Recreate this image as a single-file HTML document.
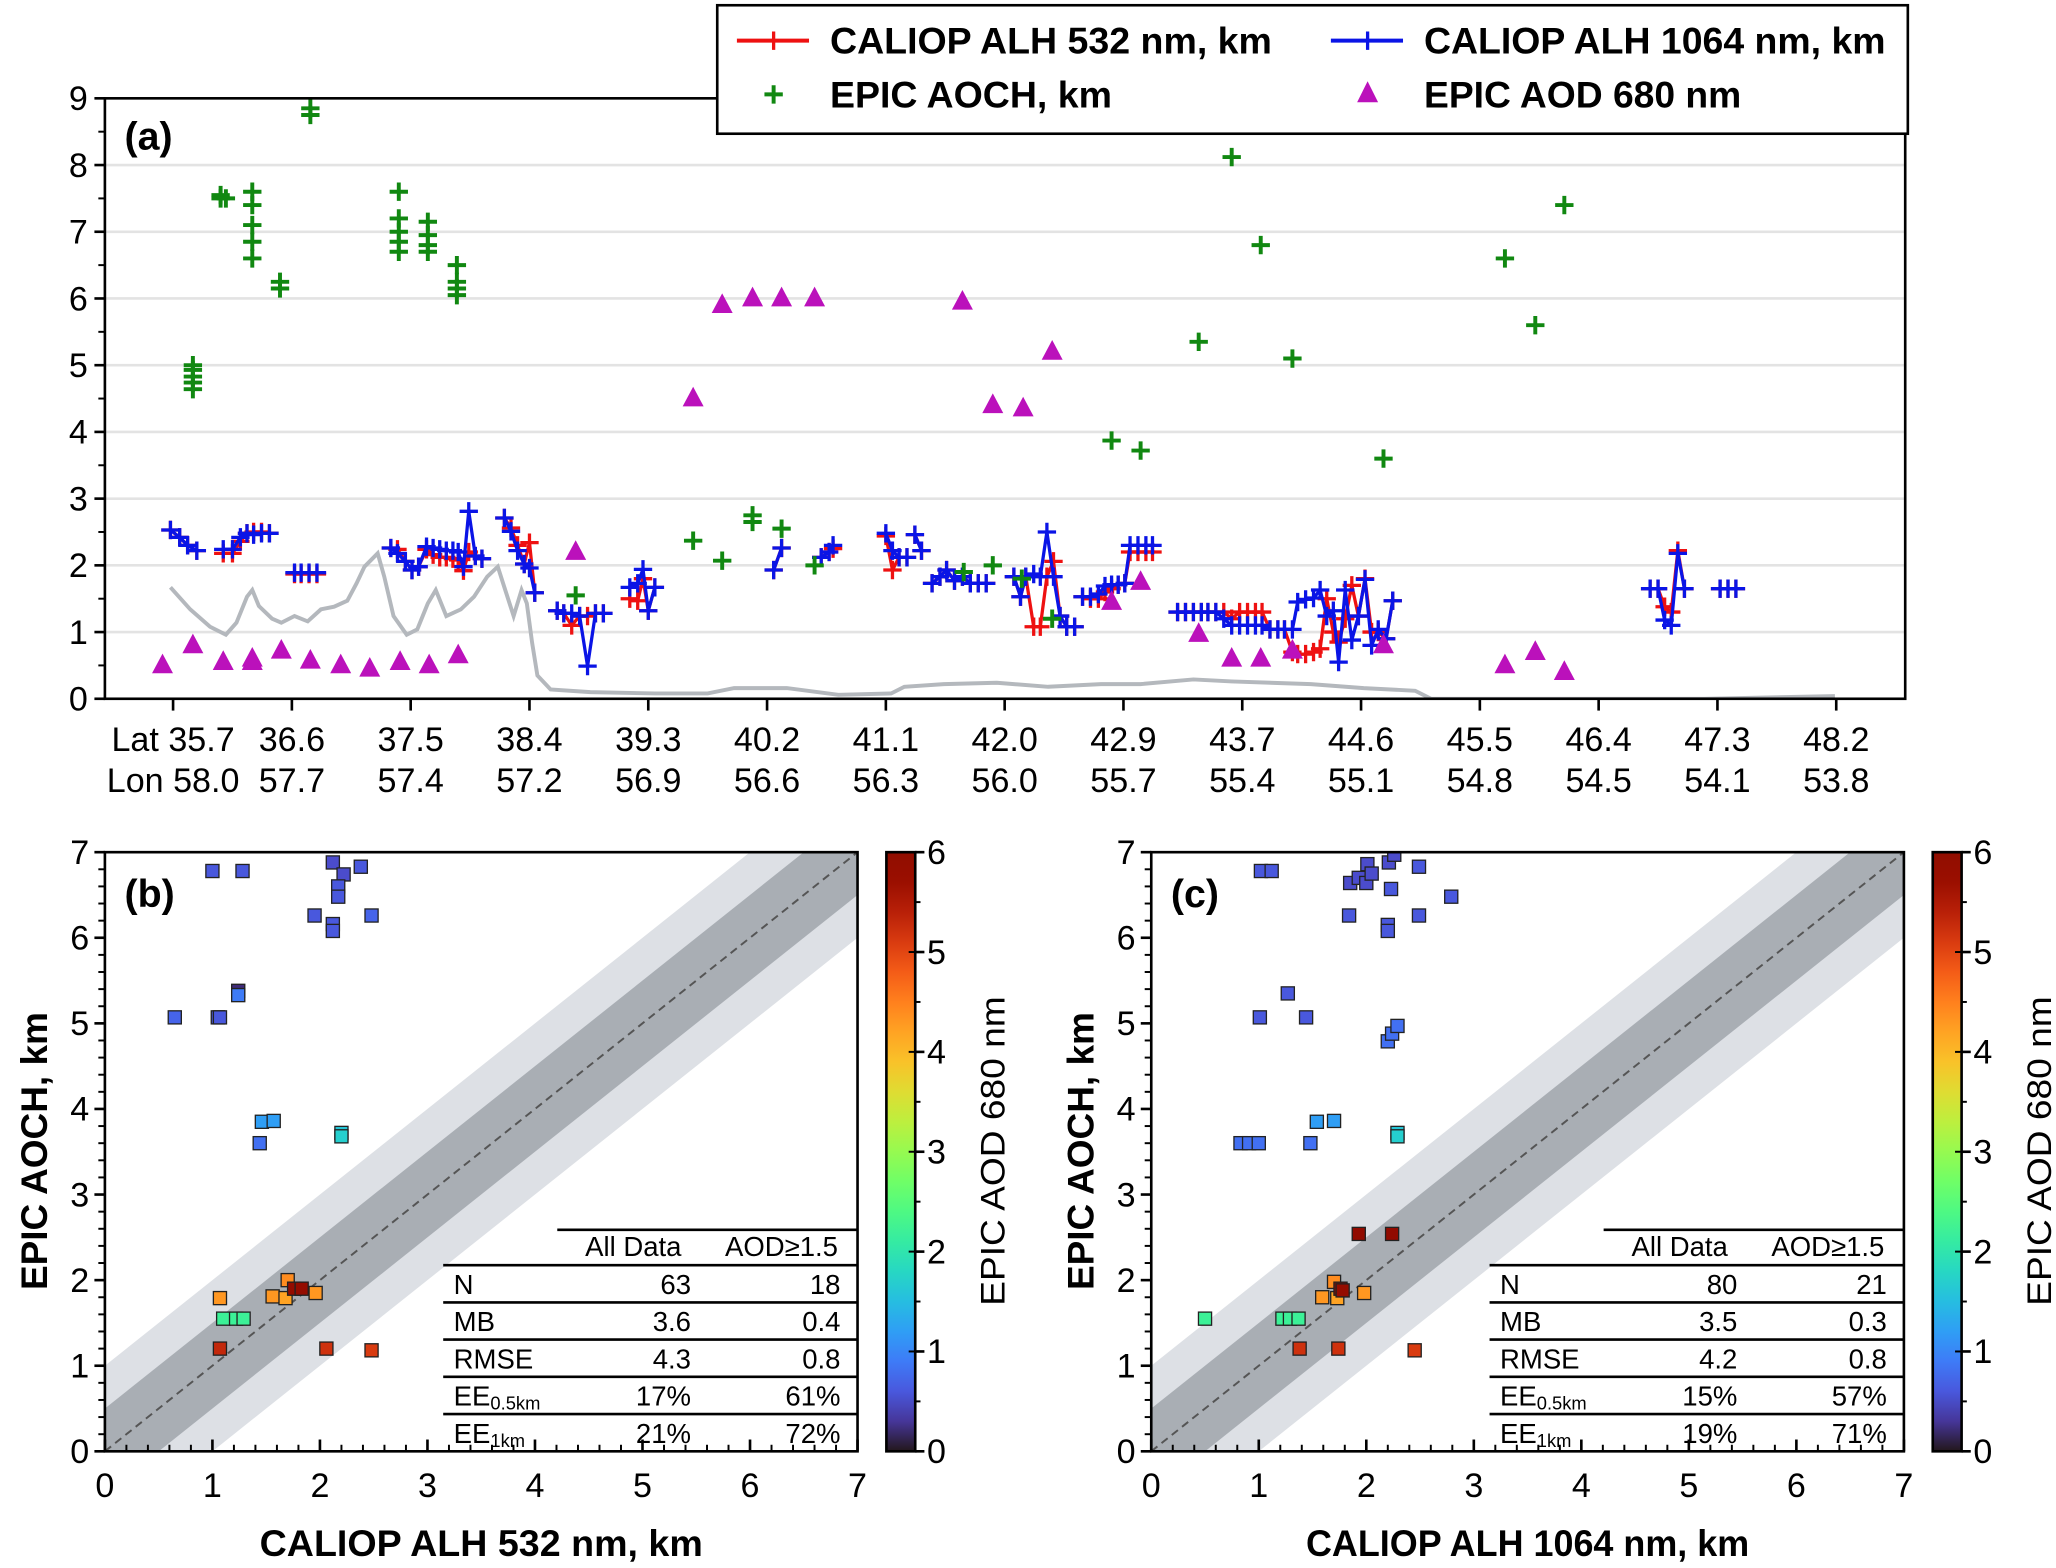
<!DOCTYPE html>
<html><head><meta charset="utf-8"><style>
html,body{margin:0;padding:0;background:#fff}
svg{display:block;font-family:"Liberation Sans",sans-serif}
</style></head><body>
<svg id="fig" width="2056" height="1568" viewBox="0 0 1568 1196" preserveAspectRatio="none" xmlns="http://www.w3.org/2000/svg"></svg>
<script>
// ---------- Panel (a) data ----------
const latTicks=["35.7","36.6","37.5","38.4","39.3","40.2","41.1","42.0","42.9","43.7","44.6","45.5","46.4","47.3","48.2"];
const lonTicks=["58.0","57.7","57.4","57.2","56.9","56.6","56.3","56.0","55.7","55.4","55.1","54.8","54.5","54.1","53.8"];
const yTicksA=[0,1,2,3,4,5,6,7,8,9];
const greyLat=[35.68,35.83,35.98,36.10,36.18,36.26,36.30,36.35,36.45,36.52,36.62,36.72,36.82,36.92,37.02,37.09,37.15,37.25,37.30,37.37,37.47,37.55,37.63,37.69,37.77,37.88,37.98,38.08,38.16,38.21,38.28,38.34,38.38,38.42,38.46,38.56,38.86,39.35,39.75,39.95,40.35,40.74,41.14,41.24,41.54,41.94,42.33,42.73,43.03,43.43,43.72,44.32,44.72,45.11,45.23,47.30,48.29];
const greyVal=[1.67,1.34,1.08,0.96,1.14,1.53,1.63,1.39,1.2,1.14,1.24,1.16,1.34,1.38,1.47,1.73,1.98,2.18,1.83,1.24,0.96,1.04,1.43,1.63,1.24,1.34,1.53,1.83,1.98,1.67,1.24,1.63,1.43,0.84,0.35,0.14,0.1,0.08,0.08,0.16,0.16,0.06,0.08,0.18,0.22,0.24,0.18,0.22,0.22,0.29,0.26,0.22,0.16,0.12,0,0,0.04];
const blueSegLat=[
[35.68,35.75,35.81,35.88],
[36.08,36.15,36.21,36.26,36.31,36.37,36.43],
[36.62,36.67,36.73,36.79],
[37.35,37.40,37.46,37.51,37.56,37.62,37.67,37.72,37.77,37.82,37.86,37.90,37.94,37.99,38.04],
[38.21,38.26,38.31,38.36,38.40,38.44],
[38.61,38.66,38.72,38.78,38.84,38.90,38.96],
[39.16,39.22,39.26,39.30,39.35],
[40.25,40.31],
[40.61,40.67,40.70],
[41.10,41.15,41.20,41.26],
[41.32,41.37],
[41.45,41.51,41.56,41.62,41.68,41.74,41.80,41.86],
[42.07,42.12,42.16,42.22,42.27,42.32,42.37,42.42,42.47,42.53],
[42.59,42.65,42.71,42.76,42.81,42.86,42.91,42.95,43.01,43.07,43.12],
[43.31,43.37,43.43,43.49,43.54,43.60,43.66,43.72,43.78,43.84,43.90,43.95,44.01,44.07,44.12,44.18,44.22,44.28,44.34,44.39,44.44,44.49,44.53,44.58,44.63,44.68,44.73,44.78,44.83,44.89,44.94],
[46.89,46.95,47.00,47.05,47.10,47.15],
[47.42,47.48,47.54]];
const blueSegVal=[
[2.53,2.42,2.3,2.22],
[2.24,2.24,2.42,2.48,2.46,2.48,2.48],
[1.89,1.89,1.89,1.89],
[2.26,2.18,2.06,1.93,1.98,2.28,2.26,2.24,2.22,2.22,2.2,1.98,2.81,2.14,2.1],
[2.71,2.51,2.22,2.02,1.96,1.59],
[1.32,1.28,1.28,1.24,0.49,1.28,1.28],
[1.67,1.73,1.94,1.32,1.67],
[1.93,2.26],
[2.12,2.2,2.3],
[2.48,2.22,2.12,2.12],
[2.46,2.22],
[1.73,1.83,1.93,1.77,1.83,1.73,1.73,1.73],
[1.83,1.53,1.83,1.87,1.83,2.5,1.83,1.24,1.08,1.08],
[1.53,1.53,1.57,1.69,1.71,1.71,1.73,2.3,2.3,2.3,2.3],
[1.3,1.3,1.3,1.3,1.3,1.3,1.2,1.1,1.1,1.1,1.1,1.1,1.04,1.04,1.04,1.04,1.45,1.49,1.51,1.63,1.24,1.32,0.55,1.63,0.88,1.24,1.79,0.8,1.04,0.9,1.47],
[1.65,1.65,1.18,1.1,2.18,1.65],
[1.65,1.65,1.65]];
const redSegVal=[
[2.53,2.42,2.3,2.22],
[2.18,2.18,2.36,2.48,2.5,2.5,2.48],
[1.87,1.87,1.87,1.87],
[2.26,2.24,2.06,1.93,1.98,2.24,2.16,2.12,2.12,2.1,2.08,1.92,2.2,2.14,2.1],
[2.71,2.56,2.3,2.02,2.34,1.59],
[1.32,1.28,1.1,1.24,1.24,1.28,1.28],
[1.5,1.47,1.8,1.32,1.67],
[1.93,2.26],
[2.12,2.2,2.25],
[2.44,1.93,2.12,2.12],
[2.46,2.22],
[1.73,1.83,1.93,1.77,1.83,1.73,1.73,1.73],
[1.83,1.53,1.83,1.08,1.08,1.83,2.06,1.24,1.08,1.08],
[1.53,1.5,1.5,1.6,1.65,1.71,1.73,2.2,2.2,2.2,2.2],
[1.3,1.3,1.3,1.3,1.3,1.3,1.3,1.2,1.3,1.3,1.3,1.3,1.04,1.04,1.04,0.7,0.67,0.67,0.7,0.75,1.5,1.0,0.85,1.2,1.7,1.24,1.8,1.0,1.0,0.9,1.47],
[1.65,1.65,1.38,1.3,2.22,1.65],
[1.65,1.65,1.65]];
const greenLat=[35.85,35.85,35.85,35.85,35.85,36.06,36.06,36.10,36.30,36.30,36.30,36.30,36.30,36.51,36.51,36.74,36.74,37.41,37.41,37.41,37.41,37.41,37.63,37.63,37.63,37.63,37.85,37.85,37.85,37.85,38.75,39.64,39.86,40.09,40.09,40.31,40.56,41.69,41.91,42.13,42.36,42.81,43.03,43.47,43.72,43.94,44.18,44.87,45.79,46.02,46.24];
const greenVal=[4.64,4.74,4.83,4.93,5.0,7.55,7.5,7.5,6.6,6.85,7.1,7.4,7.6,6.15,6.25,8.75,8.85,6.7,6.85,7.0,7.2,7.6,6.7,6.8,6.95,7.15,6.05,6.15,6.25,6.5,1.55,2.37,2.07,2.65,2.75,2.55,2.0,1.9,2.0,1.8,1.2,3.87,3.72,5.35,8.12,6.8,5.1,3.6,6.6,5.6,7.4];
const aodLat=[35.62,35.85,36.08,36.30,36.30,36.52,36.74,36.97,37.19,37.42,37.64,37.86,38.75,39.64,39.86,40.09,40.31,40.56,41.68,41.91,42.14,42.36,42.81,43.03,43.47,43.72,43.94,44.18,44.87,45.79,46.02,46.24];
const aodVal=[0.5,0.8,0.55,0.6,0.55,0.72,0.57,0.5,0.45,0.55,0.5,0.65,2.2,4.5,5.9,6.0,6.0,6.0,5.95,4.4,4.35,5.2,1.45,1.75,0.97,0.6,0.6,0.72,0.8,0.5,0.7,0.4];

// ---------- Panel (b) data ----------
const bX=[0.65,1.0,1.28,1.05,1.07,1.24,1.24,1.44,1.46,1.57,2.12,2.22,2.17,2.17,2.38,1.95,2.12,2.12,2.48,2.2,2.2,1.07,1.1,1.22,1.29,1.07,1.56,1.7,1.68,1.76,1.83,1.96,2.06,2.48];
const bY=[5.07,6.78,6.78,5.07,5.07,5.38,5.33,3.6,3.85,3.86,6.88,6.74,6.6,6.48,6.83,6.26,6.16,6.08,6.26,3.72,3.68,1.79,1.55,1.55,1.55,1.2,1.81,2.0,1.79,1.9,1.9,1.85,1.2,1.18];
const bC=[0.7,0.6,0.6,0.6,0.6,0.2,0.9,0.8,1.2,1.2,0.5,0.5,0.6,0.6,0.6,0.6,0.6,0.6,0.7,1.6,1.7,4.3,2.2,2.2,2.2,5.3,4.3,4.4,4.2,5.8,5.8,4.3,5.2,5.1];
// ---------- Panel (c) data ----------
const cX=[1.02,1.12,1.84,1.85,1.93,2.0,2.01,2.05,2.21,2.26,2.23,2.49,2.2,2.2,2.49,2.79,1.27,1.01,1.44,2.2,2.24,2.29,0.83,0.91,1.0,1.48,1.54,1.7,2.29,2.29,0.5,1.22,1.29,1.37,1.93,2.24,1.7,1.59,1.73,1.76,1.78,1.98,1.38,1.74,2.45];
const cY=[6.78,6.78,6.26,6.64,6.7,6.64,6.86,6.75,6.88,6.97,6.57,6.83,6.15,6.08,6.26,6.48,5.35,5.07,5.07,4.79,4.88,4.97,3.6,3.6,3.6,3.6,3.85,3.86,3.72,3.68,1.55,1.55,1.55,1.55,2.54,2.54,1.98,1.8,1.79,1.9,1.88,1.85,1.2,1.2,1.18];
const cC=[0.6,0.6,0.6,0.5,0.5,0.5,0.5,0.5,0.5,0.5,0.6,0.6,0.6,0.6,0.6,0.6,0.6,0.6,0.6,0.8,0.8,0.8,0.8,0.8,0.8,0.8,1.2,1.2,1.6,1.7,2.2,2.2,2.2,2.2,5.9,5.9,4.4,4.3,4.2,5.8,5.8,4.3,5.2,5.2,5.1];
const tableRows=["N","MB","RMSE","EE","EE"];
const tableSubs=["","","","0.5km","1km"];
const bAll=["63","3.6","4.3","17%","21%"];
const bAod=["18","0.4","0.8","61%","72%"];
const cAll=["80","3.5","4.2","15%","19%"];
const cAod=["21","0.3","0.8","57%","71%"];
const scTicks=[0,1,2,3,4,5,6,7];
const cbTicks=[0,1,2,3,4,5,6];

const NS="http://www.w3.org/2000/svg";
const svg=document.getElementById('fig');
function mk(tag,attrs,parent,text){const e=document.createElementNS(NS,tag);for(const k in attrs)e.setAttribute(k,attrs[k]);if(text!==undefined)e.textContent=text;(parent||svg).appendChild(e);return e;}
function turbo(t){t=Math.max(0,Math.min(1,t));
const r=0.13572138+t*(4.61539260+t*(-42.66032258+t*(132.13108234+t*(-152.94239396+t*59.28637943))));
const g=0.09140261+t*(2.19418839+t*(4.84296658+t*(-14.18503333+t*(4.27729857+t*2.82956604))));
const b=0.10667330+t*(12.64194608+t*(-60.58204836+t*(110.36276771+t*(-89.90310912+t*27.34824973))));
const c=v=>Math.round(255*Math.max(0,Math.min(1,v)));return `rgb(${c(r)},${c(g)},${c(b)})`;}

// ---- Panel (a) ----
const A={l:80,r:1453,t:75,b:533};
const xA=lat=>132+(lat-35.7)/0.9*90.6;
const yA=v=>A.b-v*(A.b-A.t)/9;
const gA=mk('g',{});

yTicksA.forEach(v=>{
  if(v>0&&v<9){const gl=mk('line',{x1:A.l,x2:A.r,y1:yA(v),y2:yA(v),stroke:'#e3e3e3','stroke-width':2},gA);}
  mk('line',{x1:A.l-8,x2:A.l,y1:yA(v),y2:yA(v),stroke:'#000','stroke-width':2},gA);
  if(v<9)mk('line',{x1:A.l-5,x2:A.l,y1:yA(v+0.5),y2:yA(v+0.5),stroke:'#000','stroke-width':1.5},gA);
  const t=mk('text',{x:A.l-13,y:yA(v)+9,'font-size':26,'text-anchor':'end'},gA,String(v));
  
});
latTicks.forEach((lab,i)=>{
  const x=132+i*90.6;
  mk('line',{x1:x,x2:x,y1:A.b,y2:A.b+9,stroke:'#000','stroke-width':2},gA);
  const t=mk('text',{x:x,y:573,'font-size':26,'text-anchor':'middle'},gA,(i===0?'Lat ':'')+lab);
  
  const t2=mk('text',{x:x,y:604,'font-size':26,'text-anchor':'middle'},gA,(i===0?'Lon ':'')+lonTicks[i]);
  
});
mk('clipPath',{id:'clipA'},svg);
mk('rect',{x:A.l,y:A.t-20,width:A.r-A.l,height:A.b-A.t+20},document.getElementById('clipA'));
const plotA=mk('g',{'clip-path':'url(#clipA)'},gA);
const gl=mk('polyline',{points:greyLat.map((l,i)=>xA(l)+','+yA(greyVal[i])).join(' '),fill:'none',stroke:'#b4b8bd','stroke-width':3},plotA);

function plus(x,y,s,col,w,p){return mk('path',{d:`M${x-s},${y}H${x+s}M${x},${y-s}V${y+s}`,stroke:col,'stroke-width':w,fill:'none'},p);}
function series(vals,col,name){
  blueSegLat.forEach((lats,si)=>{
    const g=mk('g',{},plotA);
    mk('polyline',{points:lats.map((l,i)=>xA(l)+','+yA(vals[si][i])).join(' '),fill:'none',stroke:col,'stroke-width':2.5},g);
    lats.forEach((l,i)=>plus(xA(l),yA(vals[si][i]),7,col,2.5,g));
  });
}
series(redSegVal,'#ee1111','caliop-532');
series(blueSegVal,'#0a14e6','caliop-1064');
greenLat.forEach((l,i)=>{const p=plus(xA(l),yA(greenVal[i]),7,'#118811',3,plotA);});
aodLat.forEach((l,i)=>{const x=xA(l),y=yA(aodVal[i]);const p=mk('path',{d:`M${x},${y-9}L${x+8},${y+6}L${x-8},${y+6}Z`,fill:'#bb11bb'},plotA);});
mk('rect',{x:A.l,y:A.t,width:A.r-A.l,height:A.b-A.t,fill:'none',stroke:'#000','stroke-width':2},gA);
const la=mk('text',{x:95,y:114,'font-size':30,'font-weight':'bold'},gA,'(a)');
// legend
const lg=mk('g',{},svg);
mk('rect',{x:547,y:4,width:908,height:98,fill:'#fff',stroke:'#000','stroke-width':2},lg);
mk('line',{x1:562,x2:617,y1:31,y2:31,stroke:'#ee1111','stroke-width':3},lg);plus(590,31,7,'#ee1111',2.5,lg);
mk('line',{x1:1015,x2:1070,y1:31,y2:31,stroke:'#0a14e6','stroke-width':3},lg);plus(1043,31,7,'#0a14e6',2.5,lg);
plus(590,72,7,'#118811',3,lg);
mk('path',{d:'M1043,62L1051,78L1035,78Z',fill:'#bb11bb'},lg);
[[633,41,337,'CALIOP ALH 532 nm, km'],[1086,41,352,'CALIOP ALH 1064 nm, km'],[633,82,215,'EPIC AOCH, km'],[1086,82,242,'EPIC AOD 680 nm']].forEach(d=>{
  const t=mk('text',{x:d[0],y:d[1],'font-size':28,'font-weight':'bold',textLength:d[2],lengthAdjust:'spacingAndGlyphs'},lg,d[3]);
  
});

// ---- scatter panels ----
function scatter(ox,X,Y,C,label,xtitle,all,aod,id){
  const P={l:80+ox,r:654+ox,t:650,b:1107};
  const sx=v=>P.l+v*(P.r-P.l)/7, sy=v=>P.b-v*(P.b-P.t)/7;
  const g=mk('g',{});
  mk('clipPath',{id:'clip'+id},svg);
  mk('rect',{x:P.l,y:P.t,width:P.r-P.l,height:P.b-P.t},document.getElementById('clip'+id));
  const pg=mk('g',{'clip-path':`url(#clip${id})`},g);
  const band=(d,col)=>mk('polygon',{points:`${sx(0)},${sy(d)} ${sx(7-d)},${sy(7)} ${sx(7)},${sy(7)} ${sx(7)},${sy(7-d)} ${sx(d)},${sy(0)} ${sx(0)},${sy(0)}`,fill:col},pg);
  const b1=band(1,'#dde0e5');
  const b2=band(0.5,'#a9aeb4');
  const dl=mk('line',{x1:sx(0),y1:sy(0),x2:sx(7),y2:sy(7),stroke:'#555','stroke-width':1.5,'stroke-dasharray':'6,4'},pg);
  X.forEach((x,i)=>{const r=mk('rect',{x:sx(x)-5,y:sy(Y[i])-5,width:10,height:10,fill:turbo(C[i]/6),stroke:'#222','stroke-width':1},pg);});
  scTicks.forEach(v=>{
    mk('line',{x1:sx(v),x2:sx(v),y1:P.b,y2:P.b-9,stroke:'#000','stroke-width':2},g);
    mk('line',{x1:P.l-8,x2:P.l,y1:sy(v),y2:sy(v),stroke:'#000','stroke-width':2},g);
    if(v<7)for(let k=1;k<5;k++){mk('line',{x1:sx(v+k*0.2),x2:sx(v+k*0.2),y1:P.b,y2:P.b-5,stroke:'#000','stroke-width':1.5},g);mk('line',{x1:P.l-5,x2:P.l,y1:sy(v+k*0.2),y2:sy(v+k*0.2),stroke:'#000','stroke-width':1.5},g);}
    const tx=mk('text',{x:sx(v),y:1142,'font-size':26,'text-anchor':'middle'},g,String(v));
    const ty=mk('text',{x:P.l-12,y:sy(v)+9,'font-size':26,'text-anchor':'end'},g,String(v));
  });
  mk('rect',{x:P.l,y:P.t,width:P.r-P.l,height:P.b-P.t,fill:'none',stroke:'#000','stroke-width':2},g);
  const pl=mk('text',{x:P.l+15,y:692,'font-size':30,'font-weight':'bold'},g,label);
  const xt=mk('text',{x:(P.l+P.r)/2,y:1187,'font-size':28,'font-weight':'bold','text-anchor':'middle',textLength:338,lengthAdjust:'spacingAndGlyphs'},g,xtitle);
  const yt=mk('text',{x:0,y:0,'font-size':28,'font-weight':'bold','text-anchor':'middle',transform:`translate(${P.l-44},878) rotate(-90)`,textLength:212,lengthAdjust:'spacingAndGlyphs'},g,'EPIC AOCH, km');
  // table
  const tg=mk('g',{},g);
  const tl=338+ox,tr=654+ox,tm=425+ox;
  mk('line',{x1:tm,x2:tr,y1:938,y2:938,stroke:'#000','stroke-width':2},tg);
  mk('text',{x:483+ox,y:958,'font-size':21,'text-anchor':'middle'},tg,'All Data');
  mk('text',{x:596+ox,y:958,'font-size':21,'text-anchor':'middle'},tg,'AOD≥1.5');
  tableRows.forEach((r,i)=>{
    const yl=965+i*28.4;
    mk('line',{x1:tl,x2:tr,y1:yl,y2:yl,stroke:'#000','stroke-width':2},tg);
    const t=mk('text',{x:346+ox,y:yl+22,'font-size':21},tg,r);
    if(tableSubs[i])mk('tspan',{'font-size':14,dy:3},t,tableSubs[i]);
    mk('text',{x:527+ox,y:yl+22,'font-size':21,'text-anchor':'end'},tg,all[i]);
    mk('text',{x:641+ox,y:yl+22,'font-size':21,'text-anchor':'end'},tg,aod[i]);
  });
  // colorbar
  const cx=676+ox,cw=22;
  const cg=mk('g',{},g);
  const gid='grad'+id;const lgd=mk('linearGradient',{id:gid,x1:0,y1:1,x2:0,y2:0},svg);
  for(let k=0;k<=20;k++)mk('stop',{offset:(k/20),'stop-color':turbo(k/20)},lgd);
  mk('rect',{x:cx,y:P.t,width:cw,height:P.b-P.t,fill:`url(#${gid})`,stroke:'#000','stroke-width':2},cg);
  cbTicks.forEach(v=>{const y=P.b-v*(P.b-P.t)/6;
    mk('line',{x1:cx+cw,x2:cx+cw+7,y1:y,y2:y,stroke:'#000','stroke-width':2},cg);
    mk('line',{x1:cx+cw-5,x2:cx+cw,y1:y,y2:y,stroke:'#000','stroke-width':1.5},cg);
    if(v<6)mk('line',{x1:cx+cw,x2:cx+cw+4,y1:y-(P.b-P.t)/12,y2:y-(P.b-P.t)/12,stroke:'#000','stroke-width':1.5},cg);
    const t=mk('text',{x:cx+cw+9,y:y+9,'font-size':26},cg,String(v));});
  const ct=mk('text',{x:0,y:0,'font-size':26,'text-anchor':'middle',transform:`translate(${cx+cw+68},878) rotate(-90)`,textLength:236,lengthAdjust:'spacingAndGlyphs'},cg,'EPIC AOD 680 nm');
}
scatter(0,bX,bY,bC,'(b)','CALIOP ALH 532 nm, km',bAll,bAod,'b');
scatter(798,cX,cY,cC,'(c)','CALIOP ALH 1064 nm, km',cAll,cAod,'c');
</script>
</body></html>
